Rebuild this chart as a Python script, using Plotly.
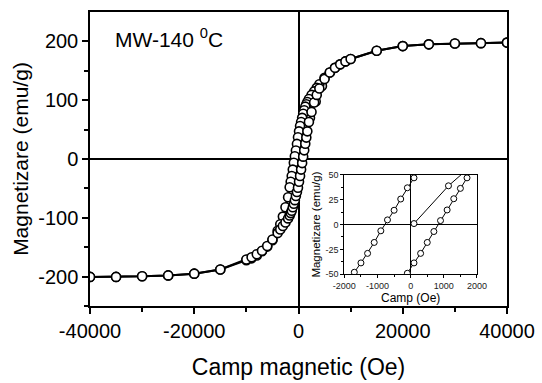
import plotly.graph_objects as go

# Descending branch (field decreasing from +40 kOe)
h_desc = [40000, 35000, 30000, 25000, 20000, 15000, 10000, 9000, 8000, 7000, 6000, 5000,
          4000, 3500, 3000, 2500, 2000, 1700, 1500, 1300, 1100, 900, 700, 500, 300, 100,
          -100, -300, -500, -700, -900, -1100, -1300, -1500, -1700, -2000, -2500, -3000,
          -3500, -4000, -5000, -6000, -7000, -8000, -9000, -10000, -15000, -20000, -25000,
          -30000, -35000, -40000]
m_desc = [198, 197, 196.5, 195, 192, 184, 170, 166, 161, 155, 147, 138,
          127, 121, 115, 109, 102, 97, 93, 89, 83, 77, 70, 63, 56, 47,
          37, 25.7, 14.4, 4.7, -6.3, -18, -29, -38.6, -48, -65, -82, -98,
          -111, -122, -138, -149, -157, -164, -169, -172, -188, -195, -198,
          -199.5, -200.5, -200.5]

# Ascending branch (field increasing from -40 kOe)
h_asc = [-40000, -35000, -30000, -25000, -20000, -15000, -10000, -9000, -8000, -7000, -6000,
         -5000, -4000, -3500, -3000, -2500, -2000, -1700, -1500, -1300, -1100, -900, -700,
         -500, -300, -100, 100, 300, 500, 700, 900, 1100, 1300, 1500, 1700, 2000, 2500,
         3000, 3500, 4000, 5000, 6000, 7000, 8000, 9000, 10000, 15000, 20000, 25000, 30000,
         35000, 40000]
m_asc = [-200.5, -200.5, -199.5, -198, -195, -188, -171, -167, -162, -156, -148,
         -137, -126, -120, -114, -108, -101, -96, -92, -88, -82, -76, -70,
         -63, -56, -49, -38.6, -29, -18, -7, 4, 14.7, 26, 36.4, 47, 63, 80,
         96, 109, 120, 136, 147, 155, 161, 166, 170, 184, 192, 195, 196.5,
         197, 198]

# Virgin (first magnetization) curve
h_virgin = [100, 1140, 2200, 3300, 4500]
m_virgin = [1, 39, 70, 98, 124]

main_xticks = [-40000, -20000, 0, 20000, 40000]
main_xticktext = ["-40000", "-20000", "0", "20000", "40000"]
main_xminor = [-30000, -10000, 10000, 30000]
main_yticks = [-200, -100, 0, 100, 200]
main_yticktext = ["-200", "-100", "0", "100", "200"]
main_yminor = [-250, -150, -50, 50, 150]

inset_xticks = [-2000, -1000, 0, 1000, 2000]
inset_xticktext = ["-2000", "-1000", "0", "1000", "2000"]
inset_xminor = [-1500, -500, 500, 1500]
inset_yticks = [-50, -25, 0, 25, 50]
inset_yticktext = ["-50", "-25", "0", "25", "50"]
inset_yminor = [-37.5, -12.5, 12.5, 37.5]

FONT = "Liberation Sans, Arial, sans-serif"

fig = go.Figure()

main_marker = dict(symbol="circle", size=9, color="white", line=dict(color="black", width=1.6))
inset_marker = dict(symbol="circle", size=6, color="white", line=dict(color="black", width=1))

for hx, my in [(h_virgin, m_virgin), (h_desc, m_desc), (h_asc, m_asc)]:
    fig.add_trace(go.Scatter(x=hx, y=my, mode="lines+markers",
                             line=dict(color="black", width=2), marker=main_marker,
                             xaxis="x", yaxis="y", showlegend=False))
for hx, my in [(h_virgin, m_virgin), (h_desc, m_desc), (h_asc, m_asc)]:
    fig.add_trace(go.Scatter(x=hx, y=my, mode="lines+markers",
                             line=dict(color="black", width=1), marker=inset_marker,
                             xaxis="x2", yaxis="y2", showlegend=False))

fig.update_layout(
    width=542, height=383,
    margin=dict(l=90, r=34, t=7, b=71),
    paper_bgcolor="white", plot_bgcolor="white",
    font=dict(family=FONT, color="black"),
    xaxis=dict(domain=[0, 1], range=[-40000, 40000], showgrid=False,
               showline=True, mirror=True, linecolor="black", linewidth=1.5,
               zeroline=True, zerolinecolor="black", zerolinewidth=1.5,
               ticks="outside", ticklen=6, tickwidth=1.5, tickcolor="black",
               tickmode="array", tickvals=main_xticks, ticktext=main_xticktext,
               tickfont=dict(size=20, family=FONT),
               minor=dict(tickvals=main_xminor, ticks="outside", ticklen=4, tickwidth=1.5, tickcolor="black"),
               title=dict(text="Camp magnetic (Oe)", font=dict(size=23, family=FONT), standoff=18)),
    yaxis=dict(domain=[0, 1], range=[-250, 250], showgrid=False,
               showline=True, mirror=True, linecolor="black", linewidth=1.5,
               zeroline=True, zerolinecolor="black", zerolinewidth=1.5,
               ticks="outside", ticklen=6, tickwidth=1.5, tickcolor="black",
               tickmode="array", tickvals=main_yticks, ticktext=main_yticktext,
               tickfont=dict(size=20, family=FONT),
               minor=dict(tickvals=main_yminor, ticks="outside", ticklen=4, tickwidth=1.5, tickcolor="black"),
               title=dict(text="Magnetizare (emu/g)", font=dict(size=21, family=FONT), standoff=4)),
    xaxis2=dict(domain=[0.610, 0.928], anchor="y2", range=[-2000, 2000], showgrid=False,
                showline=True, mirror=True, linecolor="black", linewidth=1,
                zeroline=True, zerolinecolor="black", zerolinewidth=1,
                ticks="outside", ticklen=3, tickwidth=1, tickcolor="black",
                tickmode="array", tickvals=inset_xticks, ticktext=inset_xticktext,
                tickfont=dict(size=9, family=FONT, color="#222"),
                minor=dict(tickvals=inset_xminor, ticks="outside", ticklen=2, tickwidth=1, tickcolor="black"),
                title=dict(text="Camp (Oe)", font=dict(size=12, family=FONT), standoff=0)),
    yaxis2=dict(domain=[0.108, 0.446], anchor="x2", range=[-50, 50], showgrid=False,
                showline=True, mirror=True, linecolor="black", linewidth=1,
                zeroline=True, zerolinecolor="black", zerolinewidth=1,
                ticks="outside", ticklen=3, tickwidth=1, tickcolor="black",
                tickmode="array", tickvals=inset_yticks, ticktext=inset_yticktext,
                tickfont=dict(size=9, family=FONT, color="#222"),
                minor=dict(tickvals=inset_yminor, ticks="outside", ticklen=2, tickwidth=1, tickcolor="black"),
                title=dict(text="Magnetizare (emu/g)", font=dict(size=11.5, family=FONT), standoff=2)),
    annotations=[dict(text="MW-140 <sup>0</sup>C", xref="paper", yref="paper",
                      x=0.056, y=0.91, xanchor="left", yanchor="middle", showarrow=False,
                      font=dict(size=21, family=FONT, color="black"))],
)

fig.write_html("out.html")
